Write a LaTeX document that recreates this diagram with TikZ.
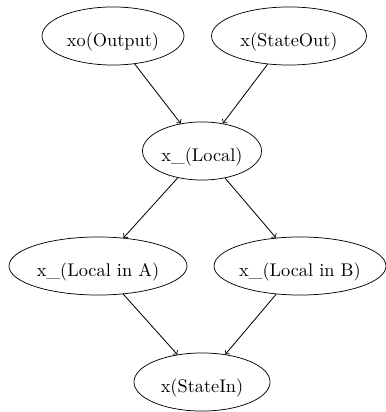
\documentclass[tikz,border=0pt]{standalone}
\usetikzlibrary{shapes.geometric}
\begin{document}
\begin{tikzpicture}[x=0.546pt,y=-0.546pt,
  nd/.style={draw,ellipse,inner sep=0pt,minimum height=31.7pt,font=\normalsize,text height=11.4pt,text depth=0pt},
  edge/.style={->,line width=0.45pt}]
\useasboundingbox (0,0) rectangle (385,412);
\node[nd,minimum width=77.5pt] (out) at (113,36) {xo(Output)};
\node[nd,minimum width=84.6pt] (sout) at (289,36) {x(StateOut)};
\node[nd,minimum width=65pt] (loc) at (202,151) {x\_(Local)};
\node[nd,minimum width=97.2pt] (la) at (98,266) {x\_(Local in A)};
\node[nd,minimum width=92.8pt] (lb) at (300,266) {x\_(Local in B)};
\node[nd,minimum width=74.3pt] (sin) at (202,382) {x(StateIn)};
\draw[edge] (out) -- (loc);
\draw[edge] (sout) -- (loc);
\draw[edge] (loc) -- (la);
\draw[edge] (loc) -- (lb);
\draw[edge] (la) -- (sin);
\draw[edge] (lb) -- (sin);
\end{tikzpicture}
\end{document}
